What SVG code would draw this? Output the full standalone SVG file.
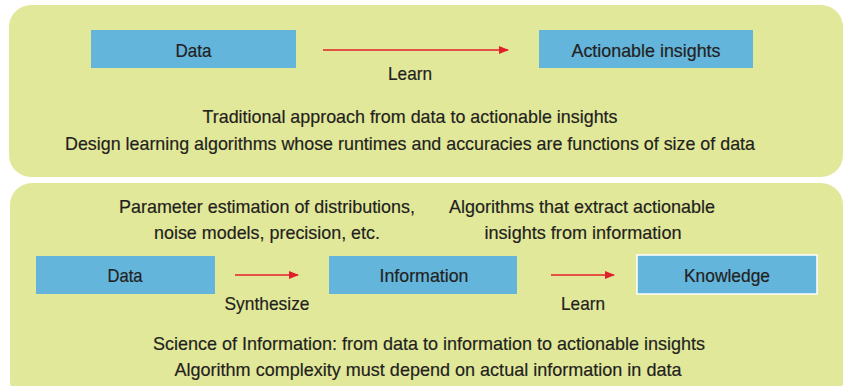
<svg xmlns="http://www.w3.org/2000/svg" width="845" height="386" viewBox="0 0 845 386">
<defs>
<marker id="ah" markerWidth="10" markerHeight="8" refX="9" refY="4" orient="auto" markerUnits="userSpaceOnUse">
<path d="M0,0 L10,4 L0,8 Z" fill="#e0202a"/>
</marker>
<style>
.panel{fill:#e2e899}
.box{fill:#63b5dc}
.t{font-family:"Liberation Sans Narrow","Liberation Sans",Arial,sans-serif;font-size:19px;fill:#231f20;text-anchor:middle;stroke:#231f20;stroke-width:0.2}
.arr{stroke:#e0202a;stroke-width:1.6;fill:none;marker-end:url(#ah)}
</style>
</defs>
<rect width="845" height="386" fill="#ffffff"/>
<rect class="panel" x="9" y="5" width="834" height="172" rx="22"/>
<rect class="panel" x="10" y="183" width="833" height="220" rx="22"/>

<g id="top-data"><rect class="box" x="91" y="30" width="205" height="38"/><text class="t" x="193.5" y="56.5" textLength="36" lengthAdjust="spacingAndGlyphs">Data</text></g>
<g id="top-insights"><rect class="box" x="539" y="30" width="214" height="38"/><text class="t" x="646" y="56.5" textLength="149" lengthAdjust="spacingAndGlyphs">Actionable insights</text></g>

<g id="bot-data"><rect class="box" x="36" y="256" width="179" height="38"/><text class="t" x="125" y="281.5" textLength="35" lengthAdjust="spacingAndGlyphs">Data</text></g>
<g id="bot-information"><rect class="box" x="329" y="256" width="188" height="38"/><text class="t" x="424" y="281.5" textLength="89" lengthAdjust="spacingAndGlyphs">Information</text></g>
<g id="bot-knowledge"><rect class="box" x="637" y="255" width="180" height="39" stroke="#ffffff" stroke-width="1.5"/><text class="t" x="727" y="281.5" textLength="86" lengthAdjust="spacingAndGlyphs">Knowledge</text></g>

<g id="connectors">
<line class="arr" x1="323" y1="50" x2="508" y2="50"/>
<line class="arr" x1="235" y1="275" x2="298" y2="275"/>
<line class="arr" x1="551" y1="275" x2="614" y2="275"/>
</g>

<g id="labels">
<text class="t" x="410" y="80" textLength="44" lengthAdjust="spacingAndGlyphs">Learn</text>
<text class="t" x="410" y="123" textLength="415" lengthAdjust="spacingAndGlyphs">Traditional approach from data to actionable insights</text>
<text class="t" x="410" y="150" textLength="690" lengthAdjust="spacingAndGlyphs">Design learning algorithms whose runtimes and accuracies are functions of size of data</text>
<text class="t" x="267" y="213" textLength="296" lengthAdjust="spacingAndGlyphs">Parameter estimation of distributions,</text>
<text class="t" x="267" y="239" textLength="226" lengthAdjust="spacingAndGlyphs">noise models, precision, etc.</text>
<text class="t" x="582" y="213" textLength="266" lengthAdjust="spacingAndGlyphs">Algorithms that extract actionable</text>
<text class="t" x="583" y="239" textLength="197" lengthAdjust="spacingAndGlyphs">insights from information</text>
<text class="t" x="267" y="310" textLength="85" lengthAdjust="spacingAndGlyphs">Synthesize</text>
<text class="t" x="583" y="310" textLength="44" lengthAdjust="spacingAndGlyphs">Learn</text>
<text class="t" x="429" y="349.5" textLength="552" lengthAdjust="spacingAndGlyphs">Science of Information: from data to information to actionable insights</text>
<text class="t" x="428" y="375.5" textLength="507" lengthAdjust="spacingAndGlyphs">Algorithm complexity must depend on actual information in data</text>
</g>
</svg>
